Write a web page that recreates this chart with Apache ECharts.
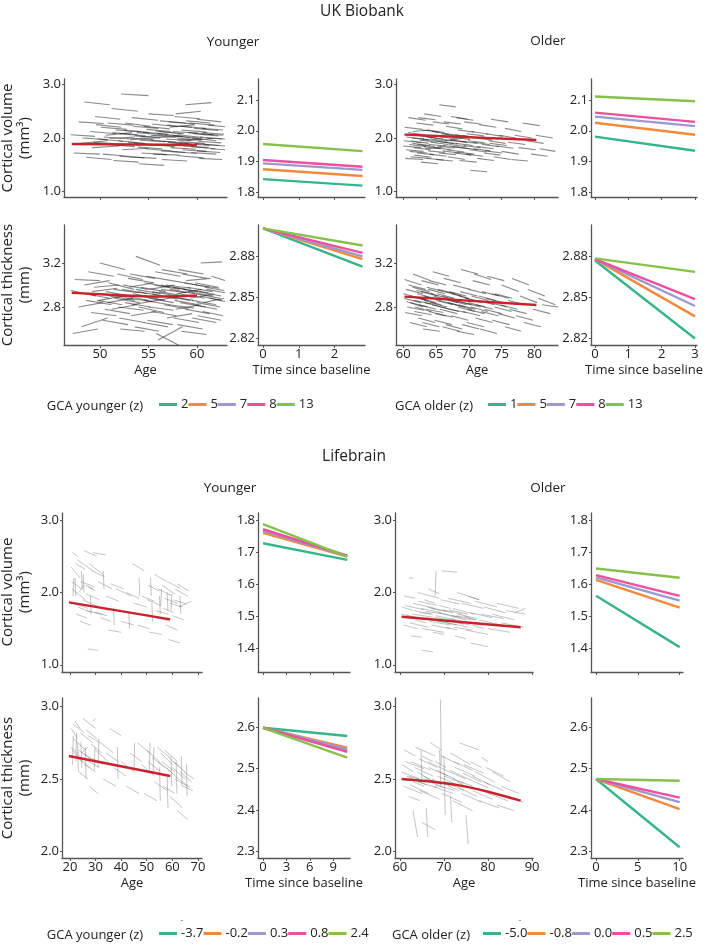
<!DOCTYPE html>
<html><head><meta charset="utf-8">
<script src="https://cdn.jsdelivr.net/npm/echarts@6/dist/echarts.min.js"></script>
<style>html,body{margin:0;padding:0;background:#fff}#c{width:708px;height:945px}</style>
</head><body><div id="c"></div>
<script>
// ---------------- DATA ----------------
// GCA levels (legend labels)
const ukbYoungLevels = ['2','5','7','8','13'];
const ukbOldLevels = ['1','5','7','8','13'];
const lbYoungLevels = ['-3.7','-0.2','0.3','0.8','2.4'];
const lbOldLevels = ['-5.0','-0.8','0.0','0.5','2.5'];

// follow-up time span of predicted lines [start, end]
const ukbYoungTime = [0, 2.78];
const ukbOldTime = [0, 3];
const lbYoungTime = [0, 10.8];
const lbOldTime = [0, 10];

// predicted values per GCA level (teal, orange, purple, pink, green)
const ukbYoungVolStart = [1.843, 1.875, 1.894, 1.905, 1.957];
const ukbYoungVolEnd   = [1.822, 1.853, 1.873, 1.883, 1.934];
const ukbOldVolStart   = [1.981, 2.026, 2.046, 2.059, 2.111];
const ukbOldVolEnd     = [1.935, 1.987, 2.015, 2.029, 2.096];
const ukbYoungThkStart = [2.9005, 2.9005, 2.9005, 2.9005, 2.9005];
const ukbYoungThkEnd   = [2.8724, 2.8780, 2.8800, 2.8825, 2.8880];
const ukbOldThkStart   = [2.8770, 2.8780, 2.8780, 2.8780, 2.8785];
const ukbOldThkEnd     = [2.8198, 2.8360, 2.8436, 2.8486, 2.8686];
const lbYoungVolStart  = [1.729, 1.762, 1.768, 1.773, 1.789];
const lbYoungVolEnd    = [1.677, 1.687, 1.689, 1.690, 1.687];
const lbOldVolStart    = [1.564, 1.614, 1.622, 1.629, 1.650];
const lbOldVolEnd      = [1.403, 1.527, 1.549, 1.564, 1.621];
const lbYoungThkStart  = [2.599, 2.599, 2.599, 2.599, 2.599];
const lbYoungThkEnd    = [2.579, 2.551, 2.547, 2.541, 2.527];
const lbOldThkStart    = [2.475, 2.475, 2.475, 2.475, 2.475];
const lbOldThkEnd      = [2.310, 2.402, 2.419, 2.430, 2.471];

// group fit lines [age, value]
const ukbYoungVolFit = [[47.1,1.888],[60,1.870]];
const ukbOldVolFit   = [[60.2,2.062],[80.3,1.963]];
const ukbYoungThkFit = [[47.1,2.930],[51,2.912],[55,2.896],[58,2.898],[60,2.905]];
const ukbOldThkFit   = [[60.2,2.894],[80.3,2.818]];
const lbYoungVolFit  = [[19.6,1.864],[59.2,1.629]];
const lbOldVolFit    = [[60.4,1.665],[87.4,1.519]];
const lbYoungThkFit  = [[19.6,2.659],[59.2,2.521]];
const lbOldThkFit    = [[60.4,2.500],[65,2.488],[70,2.472],[75,2.447],[80,2.412],[87.4,2.350]];

// individual trajectories [age0, value0, age1, value1]
const ukbYoungVolTraj = [
[47.0,2.06,49.5,2.03],[47.3,1.72,50.0,1.70],[47.8,2.30,50.4,2.27],[48.0,1.90,50.8,1.95],[48.4,2.67,51.0,2.62],
[48.6,1.64,51.2,1.60],[49.0,2.12,51.7,2.08],[49.2,1.82,52.0,1.85],[49.5,2.40,52.1,2.35],[49.8,1.98,52.4,1.94],
[50.1,2.20,52.8,2.16],[50.3,1.70,53.0,1.66],[50.6,2.05,53.3,2.10],[50.9,1.88,53.6,1.84],[51.2,2.55,53.9,2.50],
[51.4,1.58,54.0,1.55],[51.6,2.15,54.3,2.12],[51.9,1.95,54.6,1.90],[52.2,2.82,55.0,2.79],[52.3,1.78,55.0,1.81],
[52.6,2.28,55.2,2.22],[52.8,2.00,55.5,1.97],[53.0,1.65,55.8,1.62],[53.3,2.38,56.0,2.33],[53.5,1.90,56.2,1.86],
[53.8,2.10,56.5,2.06],[54.0,1.52,56.6,1.49],[54.2,2.02,56.9,2.05],[54.5,2.22,57.2,2.17],[54.7,1.80,57.4,1.76],
[55.0,2.45,57.6,2.42],[55.2,1.96,57.9,1.92],[55.5,1.70,58.2,1.68],[55.7,2.13,58.4,2.08],[56.0,1.86,58.6,1.90],
[56.2,2.32,58.9,2.28],[56.4,1.60,59.0,1.57],[56.7,2.05,59.3,2.01],[57.0,1.92,59.6,1.88],[57.2,2.20,59.8,2.25],
[57.4,1.75,60.0,1.71],[57.7,2.40,60.3,2.36],[57.9,2.00,60.5,1.96],[58.1,1.67,60.7,1.63],[58.4,2.15,61.0,2.11],
[58.6,1.85,61.2,1.82],[58.8,2.62,61.5,2.66],[59.0,1.95,61.6,1.99],[59.2,2.28,61.8,2.24],[59.4,1.73,62.0,1.70],
[59.6,2.08,62.2,2.04],[59.8,1.90,62.3,1.86],[60.0,2.35,62.5,2.30],[60.2,1.62,62.6,1.60],[60.3,2.02,62.6,1.98],
[60.5,2.18,62.7,2.15],[52.0,2.08,54.7,2.04],[55.9,2.09,58.5,2.03],[58.0,2.06,60.6,2.01],[53.9,1.83,56.4,1.80],
[53.1,1.97,55.6,2.00],[56.8,1.98,59.4,1.95],[54.4,2.11,57.0,2.07],[58.2,1.93,60.8,1.90],[60.6,2.10,62.8,2.07],
[51.0,1.99,53.6,2.02],[55.3,2.05,57.8,2.01],[57.5,2.12,60.1,2.09],[59.5,2.00,62.0,1.95],[49.6,2.25,52.2,2.20],
[50.4,2.02,53.0,1.98],[51.3,2.10,53.9,2.06],[51.8,1.86,54.4,1.89],[52.5,2.14,55.1,2.10],[52.9,1.92,55.4,1.88],
[53.6,2.04,56.2,2.00],[54.1,1.96,56.7,1.93],[54.8,2.16,57.3,2.12],[55.1,1.88,57.7,1.84],[55.6,2.00,58.1,2.04],
[56.1,2.12,58.7,2.08],[56.5,1.94,59.1,1.90],[56.9,2.24,59.5,2.20],[57.3,1.82,59.9,1.79],[57.6,2.04,60.2,2.00],
[58.0,1.96,60.5,1.99],[58.3,2.22,60.9,2.18],[58.7,1.90,61.3,1.86],[59.1,2.10,61.7,2.06],[59.4,1.84,61.9,1.80],
[59.7,2.18,62.2,2.14],[60.1,1.94,62.5,1.91],[60.4,2.08,62.7,2.05],[60.7,1.88,62.9,1.85],[53.4,2.22,56.0,2.18],
[55.4,2.26,58.0,2.21],[57.1,2.30,59.7,2.26],[58.9,2.32,61.4,2.28],[54.3,1.72,56.9,1.69],[56.3,1.76,58.8,1.73],
[58.5,1.78,61.0,1.75],[60.0,1.76,62.4,1.73],[48.2,2.00,50.8,1.97],[49.3,1.92,51.9,1.89],[50.8,2.28,53.4,2.24],
[61.0,2.00,62.9,1.98],[61.2,2.24,62.9,2.21],[61.4,1.80,62.9,1.78],[52.0,1.66,54.6,1.63],[57.8,2.45,60.4,2.50]
];
const ukbOldVolTraj = [
[60.0,1.85,62.7,1.82],[60.2,2.20,62.9,2.16],[60.3,1.62,63.0,1.60],[60.5,2.02,63.2,1.98],[60.8,2.38,63.4,2.33],
[61.0,1.75,63.6,1.72],[61.2,1.95,63.9,1.90],[61.5,2.12,64.0,2.15],[61.7,1.68,64.3,1.64],[62.0,2.28,64.6,2.24],
[62.2,1.88,64.8,1.84],[62.4,2.05,65.0,2.00],[62.7,1.55,65.3,1.52],[63.0,1.98,65.6,1.94],[63.2,2.45,65.8,2.40],
[63.4,1.80,66.0,1.83],[63.7,2.15,66.3,2.10],[64.0,1.70,66.6,1.66],[64.2,1.92,66.9,1.88],[64.5,2.30,67.0,2.26],
[64.8,2.00,67.4,1.95],[65.0,1.60,67.6,1.57],[65.2,1.85,67.8,1.81],[65.5,2.62,68.0,2.58],[65.8,2.08,68.4,2.03],
[66.0,1.76,68.6,1.72],[66.3,1.95,68.9,1.99],[66.5,2.22,69.0,2.17],[66.8,1.65,69.4,1.60],[67.0,1.88,69.6,1.84],
[67.3,2.40,69.8,2.35],[67.6,2.02,70.2,1.97],[67.8,1.72,70.4,1.68],[68.0,1.90,70.6,1.86],[68.3,2.15,70.8,2.11],
[68.6,1.58,71.2,1.55],[68.8,1.82,71.4,1.78],[69.0,2.05,71.6,2.00],[69.3,2.30,71.8,2.26],[69.6,1.70,72.2,1.66],
[69.9,1.95,72.4,1.91],[70.2,1.40,72.8,1.37],[70.4,2.12,73.0,2.07],[70.7,1.80,73.3,1.76],[71.0,2.00,73.6,1.96],
[71.3,1.62,73.8,1.58],[71.6,2.25,74.2,2.20],[72.0,1.88,74.6,1.84],[72.3,1.72,74.8,1.68],[72.6,2.08,75.2,2.03],
[73.0,1.95,75.6,1.90],[73.4,2.35,76.0,2.30],[73.8,1.65,76.4,1.60],[74.2,1.85,76.8,1.81],[74.6,2.05,77.2,2.00],
[75.0,1.75,77.6,1.70],[75.5,2.18,78.0,2.12],[76.0,1.92,78.6,1.88],[76.5,1.60,79.0,1.57],[77.0,2.05,79.6,2.00],
[77.6,1.82,80.2,1.78],[78.2,2.28,80.8,2.23],[78.8,1.95,81.4,1.90],[79.5,1.70,82.0,1.66],[80.2,2.05,82.8,2.00],
[80.8,1.80,83.2,1.75],[61.4,1.90,64.1,1.86],[63.9,1.88,66.5,1.85],[65.6,1.93,68.2,1.89],[67.2,1.96,69.8,1.92],
[60.1,1.95,62.8,1.91],[60.4,1.78,63.1,1.75],[60.7,2.10,63.3,2.06],[60.9,1.88,63.5,1.84],[61.3,2.00,64.0,1.96],
[61.6,1.82,64.2,1.78],[61.9,2.05,64.5,2.01],[62.1,1.72,64.7,1.69],[62.6,1.96,65.2,1.92],[62.9,2.15,65.5,2.11],
[63.1,1.84,65.7,1.80],[63.5,2.02,66.1,1.98],[63.8,1.76,66.4,1.73],[64.1,1.98,66.7,1.94],[64.4,2.12,67.0,2.07],
[64.7,1.82,67.3,1.78],[65.1,1.94,67.7,1.90],[65.4,1.72,68.0,1.69],[65.7,2.02,68.3,1.98],[66.1,1.86,68.7,1.82],
[66.4,2.08,69.0,2.04],[66.7,1.78,69.3,1.74],[67.1,1.96,69.7,1.92],[67.5,1.84,70.1,1.80],[67.9,2.06,70.5,2.02],
[68.2,1.74,70.8,1.70],[68.7,1.94,71.3,1.90],[69.2,1.86,71.8,1.82],[69.7,2.08,72.3,2.04],[70.1,1.78,72.7,1.74],
[70.6,1.92,73.2,1.88],[71.2,1.84,73.8,1.80],[71.8,2.02,74.4,1.98],[72.5,1.76,75.1,1.72],[73.2,1.90,75.8,1.86],
[61.1,1.65,63.8,1.62],[63.6,1.62,66.2,1.59],[66.2,2.30,68.8,2.26],[62.3,2.38,64.9,2.34],[68.1,2.38,70.7,2.33]
];
const ukbYoungThkTraj = [
[47.0,2.95,49.6,2.90],[47.4,3.05,50.0,3.04],[47.8,2.80,50.3,2.84],[48.1,2.62,50.8,2.70],[48.5,2.92,51.0,2.88],
[48.8,3.12,51.4,3.08],[49.1,2.75,51.7,2.72],[49.4,2.98,52.0,3.00],[49.7,2.86,52.3,2.82],[50.0,3.20,52.6,3.14],
[50.3,2.68,52.9,2.64],[50.6,2.94,53.2,2.90],[50.9,3.02,53.5,2.96],[51.2,2.78,53.8,2.82],[51.5,2.88,54.1,2.84],
[51.8,3.10,54.4,3.05],[52.1,2.60,54.6,2.58],[52.3,2.96,54.9,2.92],[52.6,2.84,55.2,2.80],[52.9,3.06,55.5,3.02],
[53.2,2.72,55.8,2.76],[53.4,2.92,56.0,2.88],[53.7,3.26,56.2,3.18],[54.0,2.80,56.6,2.75],[54.2,2.98,56.8,2.94],
[54.5,2.66,57.0,2.62],[54.8,3.08,57.4,3.04],[55.0,2.88,57.6,2.84],[55.3,2.76,57.9,2.72],[55.6,3.00,58.2,2.96],
[55.8,2.56,58.2,2.45],[56.1,2.94,58.7,2.90],[56.4,3.14,59.0,3.10],[56.6,2.82,59.2,2.78],[56.9,2.70,59.5,2.74],
[57.2,2.96,59.8,2.92],[57.4,3.04,60.0,3.00],[57.7,2.86,60.2,2.82],[58.0,2.64,60.6,2.60],[58.2,2.92,60.8,2.88],
[58.5,3.10,61.0,3.06],[58.8,2.78,61.3,2.74],[59.0,2.98,61.6,2.94],[59.3,2.88,61.8,2.92],[59.5,2.70,62.0,2.66],
[59.8,3.02,62.2,2.98],[60.0,2.84,62.4,2.80],[60.2,2.94,62.5,2.90],[60.4,3.20,62.6,3.21],[60.6,2.76,62.7,2.72],
[52.4,2.90,55.0,2.86],[53.9,2.94,56.5,2.90],[55.4,2.92,58.0,2.87],[57.0,2.90,59.6,2.86],[58.6,2.96,61.2,2.93],
[59.9,2.92,62.4,2.88],[51.0,2.90,53.6,2.86],[49.9,2.86,52.5,2.90],[54.6,2.86,57.2,2.82],[56.3,2.96,58.9,2.93],
[57.8,2.78,60.4,2.82],[59.6,2.82,62.1,2.78],[60.8,2.98,62.8,2.95],[47.2,2.56,49.8,2.60],[48.4,3.00,51.0,3.04],
[50.5,2.78,53.1,2.74],[53.0,2.98,55.6,3.02],[55.1,2.96,57.7,3.00],[56.8,3.00,59.4,2.97],[58.9,3.04,61.4,3.06],
[50.2,2.92,52.8,2.89],[50.8,2.84,53.4,2.88],[51.4,2.96,54.0,2.93],[51.9,2.80,54.5,2.77],[52.4,3.00,55.0,2.96],
[52.8,2.88,55.4,2.85],[53.3,2.82,55.9,2.86],[53.7,2.96,56.3,2.92],[54.1,2.90,56.7,2.86],[54.6,3.02,57.2,2.98],
[55.0,2.80,57.6,2.77],[55.4,2.94,58.0,2.90],[55.9,2.86,58.5,2.90],[56.3,3.00,58.9,2.96],[56.7,2.90,59.3,2.86],
[57.1,2.82,59.7,2.79],[57.5,2.98,60.1,2.94],[57.9,2.92,60.5,2.96],[58.3,2.84,60.9,2.80],[58.7,3.02,61.3,2.98],
[59.1,2.94,61.7,2.90],[59.5,2.86,62.0,2.82],[59.9,3.00,62.3,2.97],[60.3,2.90,62.6,2.86],[60.7,2.84,62.8,2.88],
[61.0,2.96,62.9,2.93],[61.3,2.88,62.9,2.85],[53.1,3.10,55.7,3.06],[55.7,3.12,58.3,3.08],[58.1,3.14,60.7,3.10],
[52.0,2.70,54.6,2.66],[54.9,2.68,57.5,2.64],[57.6,2.70,60.2,2.66],[60.1,2.72,62.5,2.68],[48.6,2.86,51.2,2.82],
[49.2,2.94,51.8,2.97],[56.0,2.50,58.5,2.62],[58.4,2.58,61.0,2.55],[53.6,2.62,56.1,2.58],[61.5,3.08,62.9,3.04]
];
const ukbOldThkTraj = [
[60.0,2.92,62.6,2.88],[60.2,3.05,62.8,3.00],[60.3,2.75,62.9,2.72],[60.5,2.85,63.0,2.80],[60.8,3.00,63.4,2.96],
[61.0,2.66,63.6,2.62],[61.2,2.90,63.8,2.86],[61.5,3.10,64.1,3.04],[61.8,2.80,64.3,2.76],[62.0,2.95,64.6,2.92],
[62.3,2.70,64.9,2.66],[62.5,2.88,65.0,2.84],[62.8,3.04,65.4,3.00],[63.0,2.60,65.6,2.58],[63.3,2.84,65.9,2.80],
[63.6,2.98,66.2,2.94],[63.9,2.76,66.5,2.72],[64.2,2.92,66.8,2.88],[64.5,3.12,67.0,3.08],[64.8,2.68,67.4,2.64],
[65.0,2.86,67.6,2.82],[65.3,2.96,67.9,2.92],[65.6,2.78,68.2,2.74],[65.9,2.90,68.5,2.86],[66.2,3.06,68.8,3.02],
[66.5,2.64,69.0,2.60],[66.8,2.84,69.4,2.80],[67.0,2.94,69.6,2.90],[67.3,2.72,69.9,2.68],[67.6,3.00,70.2,2.96],
[67.9,2.82,70.5,2.78],[68.2,2.58,70.8,2.55],[68.5,2.90,71.0,2.86],[68.8,3.14,71.4,3.10],[69.1,2.76,71.7,2.72],
[69.4,2.88,72.0,2.84],[69.7,2.66,72.3,2.62],[70.0,2.96,72.6,2.92],[70.3,2.80,72.9,2.76],[70.6,3.04,73.2,3.00],
[71.0,2.70,73.6,2.66],[71.3,2.86,73.9,2.82],[71.7,2.60,74.3,2.56],[72.0,2.94,74.6,2.90],[72.4,2.78,75.0,2.74],
[72.8,3.08,75.4,3.04],[73.2,2.84,75.8,2.80],[73.6,2.68,76.2,2.64],[74.0,2.92,76.6,2.88],[74.5,2.74,77.0,2.70],
[75.0,3.00,77.6,2.94],[75.5,2.62,78.0,2.58],[76.0,2.86,78.6,2.82],[76.6,3.06,79.2,3.00],[77.2,2.72,79.8,2.68],
[77.8,2.90,80.4,2.84],[78.4,2.66,81.0,2.62],[79.0,2.96,81.6,2.90],[79.8,2.78,82.4,2.74],[80.6,2.88,83.2,2.82],
[81.2,2.82,83.6,2.80],[61.6,2.86,64.2,2.83],[63.1,2.90,65.7,2.86],[64.4,2.82,67.0,2.78],[65.8,2.88,68.4,2.84],
[67.1,2.86,69.7,2.82],[68.4,2.82,71.0,2.78],[69.9,2.84,72.5,2.80],[71.5,2.90,74.1,2.86],[73.9,2.80,76.5,2.76],
[60.1,2.88,62.7,2.84],[60.4,2.96,63.0,2.92],[60.6,2.80,63.2,2.77],[60.9,2.90,63.5,2.86],[61.1,2.84,63.7,2.80],
[61.4,2.98,64.0,2.94],[61.7,2.76,64.3,2.73],[62.1,2.92,64.7,2.88],[62.4,2.82,65.0,2.78],[62.7,2.94,65.3,2.90],
[63.2,2.86,65.8,2.82],[63.5,2.78,66.1,2.75],[63.8,2.96,66.4,2.92],[64.1,2.84,66.7,2.80],[64.6,2.90,67.2,2.86],
[64.9,2.74,67.5,2.71],[65.2,2.92,67.8,2.88],[65.5,2.86,68.1,2.82],[65.9,2.80,68.5,2.76],[66.3,2.94,68.9,2.90],
[66.6,2.88,69.2,2.84],[67.0,2.78,69.6,2.75],[67.4,2.92,70.0,2.88],[67.8,2.86,70.4,2.82],[68.3,2.80,70.9,2.76],
[68.7,2.94,71.3,2.90],[69.2,2.84,71.8,2.80],[69.8,2.78,72.4,2.74],[70.4,2.90,73.0,2.86],[71.1,2.82,73.7,2.78],
[71.9,2.76,74.5,2.72],[72.6,2.88,75.2,2.84],[73.5,2.92,76.1,2.88],[74.8,2.82,77.4,2.78],[76.2,2.78,78.8,2.74],
[62.9,2.66,65.5,2.62],[66.0,2.62,68.6,2.58],[69.0,2.64,71.6,2.60],[64.0,3.04,66.6,3.00],[70.8,3.10,73.4,3.05]
];
const lbYoungVolTraj = [
[20.5,2.35,24.0,2.20],[20.8,2.05,26.0,1.90],[21.0,2.55,23.0,2.50],[21.5,1.85,27.0,1.78],[22.0,2.20,22.3,1.95],
[22.5,1.70,26.5,1.65],[23.0,2.45,29.0,2.30],[23.5,2.00,25.5,2.10],[24.0,1.60,28.0,1.55],[24.5,2.30,24.8,2.05],
[25.0,1.90,31.0,1.80],[25.5,2.58,30.5,2.50],[26.0,2.10,29.0,2.05],[26.5,1.75,33.0,1.70],[27.0,1.22,31.0,1.20],
[27.5,2.40,33.0,2.25],[28.0,1.95,28.3,1.70],[29.0,2.55,34.0,2.52],[30.0,1.82,35.0,1.75],[31.0,2.15,36.5,2.05],
[32.0,1.65,36.0,1.60],[33.0,2.30,33.3,2.05],[34.0,1.95,39.0,1.88],[35.0,1.48,40.0,1.45],[36.0,2.12,41.0,2.05],
[37.0,1.78,37.3,1.55],[38.0,2.05,44.0,1.95],[40.0,1.60,45.0,1.55],[42.0,2.00,47.0,1.92],[43.0,1.72,43.3,1.50],
[44.5,2.40,49.0,2.30],[45.0,1.85,50.0,1.80],[46.5,1.55,51.0,1.50],[47.0,2.20,47.3,1.95],[48.0,1.95,53.0,1.88],
[49.5,1.70,54.0,1.65],[50.5,2.10,55.0,2.02],[51.0,1.45,56.0,1.42],[52.0,1.85,52.3,1.60],[53.0,2.25,58.0,2.15],
[54.0,1.65,59.0,1.60],[55.0,1.95,55.3,1.70],[56.0,2.10,61.0,1.98],[56.5,1.78,60.5,1.72],[57.5,1.55,62.0,1.48],
[58.0,2.00,58.3,1.75],[59.0,1.85,64.0,1.80],[60.0,1.68,64.5,1.62],[61.0,2.05,66.0,1.95],[62.5,1.80,67.5,1.88],
[58.5,1.35,63.0,1.30],[63.0,1.95,63.3,1.70],
[20.6,2.15,24.5,2.05],[21.2,1.95,21.5,2.20],[22.2,2.40,26.0,2.32],[23.2,1.80,28.5,1.72],[24.2,2.15,29.5,2.08],
[25.2,2.25,25.5,2.00],[26.2,1.98,31.5,1.90],[27.2,2.08,30.0,2.02],[28.5,2.30,33.5,2.22],[29.5,1.72,34.5,1.68],
[50.2,1.90,55.5,1.82],[51.5,2.20,51.8,1.95],[53.5,1.75,58.5,1.70],[54.5,2.05,59.5,1.96],[55.5,1.82,55.8,2.05],
[57.0,1.92,62.0,1.85],[58.2,2.15,63.0,2.06],[59.5,1.75,59.8,1.98],[60.5,1.90,65.5,1.84],[62.0,2.12,66.5,2.02]
];
const lbOldVolTraj = [
[60.5,1.80,63.0,1.75],[60.8,1.55,64.0,1.50],[61.0,1.95,63.5,1.92],[61.5,1.68,66.0,1.62],[62.0,2.20,63.0,2.20],
[62.5,1.40,65.0,1.38],[63.0,1.85,68.0,1.78],[63.5,1.62,66.0,1.58],[64.0,2.00,69.0,1.92],[64.5,1.72,67.0,1.70],
[65.0,1.50,70.0,1.45],[65.5,1.90,68.0,1.85],[66.0,1.65,71.0,1.58],[66.5,2.05,69.0,1.98],[67.0,1.78,72.0,1.72],
[67.5,1.45,70.0,1.42],[68.0,1.95,68.2,2.30],[68.5,1.60,73.0,1.55],[69.0,1.82,71.5,1.78],[69.5,2.30,73.0,2.28],
[70.0,1.70,75.0,1.62],[70.5,1.52,73.0,1.48],[71.0,1.92,76.0,1.85],[71.5,1.64,74.0,1.60],[72.0,1.78,77.0,1.70],
[72.5,1.40,75.0,1.36],[73.0,2.00,78.0,1.90],[73.5,1.58,76.0,1.55],[74.0,1.85,79.0,1.78],[74.5,1.68,77.0,1.62],
[75.0,1.48,80.0,1.42],[75.5,1.95,78.0,1.90],[76.0,1.72,81.0,1.65],[76.5,1.55,79.0,1.50],[77.0,1.88,82.0,1.80],
[78.0,1.62,83.0,1.55],[79.0,1.80,84.0,1.72],[80.0,1.50,85.0,1.45],[81.0,1.70,86.0,1.62],[82.0,1.85,87.0,1.78],
[83.0,1.58,88.0,1.52],[84.0,1.75,88.5,1.70],[62.8,1.70,67.5,1.66],[64.8,1.78,69.5,1.72],[66.8,1.60,71.5,1.55],
[68.8,1.72,73.5,1.66],[70.8,1.58,75.5,1.52],[72.8,1.68,77.5,1.62],[65.0,1.20,67.5,1.18],[76.0,1.30,80.0,1.25],
[86.0,1.72,88.5,1.78],
[60.3,1.70,64.5,1.65],[61.2,1.82,65.5,1.76],[62.2,1.58,66.5,1.52],[63.2,1.75,67.5,1.70],[64.2,1.88,68.5,1.82],
[65.2,1.65,69.5,1.60],[66.2,1.80,70.5,1.74],[67.2,1.55,71.5,1.50],[68.2,1.68,72.5,1.62],[69.2,1.90,73.5,1.84],
[70.2,1.62,74.5,1.56],[71.2,1.76,75.5,1.70],[72.2,1.52,76.5,1.48],[73.2,1.70,77.5,1.64],[74.2,1.60,78.5,1.55],
[65.8,1.74,70.2,1.70],[67.8,1.66,72.2,1.61],[69.8,1.76,74.2,1.70],[71.8,1.68,76.2,1.62],[78.5,1.70,83.5,1.64]
];
const lbYoungThkTraj = [
[20.5,2.85,23.0,2.78],[20.8,2.70,25.0,2.62],[21.0,2.60,21.3,2.80],[21.5,2.78,26.0,2.70],[22.0,2.90,24.0,2.85],
[22.5,2.65,28.0,2.58],[23.0,2.75,23.3,2.55],[23.5,2.55,27.0,2.50],[24.0,2.82,29.0,2.75],[24.5,2.68,27.0,2.72],
[25.0,2.92,30.0,2.85],[25.5,2.60,30.0,2.55],[26.0,2.72,26.3,2.50],[27.0,2.80,32.0,2.75],[27.5,2.45,31.0,2.40],
[28.0,2.65,33.0,2.60],[29.0,2.90,30.0,2.92],[30.0,2.70,35.0,2.62],[31.0,2.58,31.3,2.78],[32.0,2.75,37.0,2.68],
[33.0,2.50,38.0,2.45],[34.0,2.68,39.0,2.62],[35.5,2.85,40.0,2.80],[37.0,2.58,42.0,2.52],[38.5,2.72,38.8,2.50],
[40.0,2.62,45.0,2.55],[42.0,2.45,47.0,2.40],[43.5,2.68,48.0,2.62],[45.0,2.55,45.3,2.75],[46.5,2.75,51.0,2.68],
[48.0,2.60,53.0,2.52],[49.0,2.40,54.0,2.35],[50.0,2.70,55.0,2.62],[51.0,2.55,51.3,2.75],[52.0,2.65,57.0,2.58],
[53.0,2.48,58.0,2.42],[54.0,2.72,59.0,2.65],[55.0,2.58,55.3,2.35],[56.0,2.62,61.0,2.55],[56.5,2.45,61.0,2.40],
[57.0,2.70,62.0,2.62],[58.0,2.52,58.3,2.30],[58.5,2.65,63.0,2.58],[59.0,2.38,64.0,2.30],[60.0,2.58,65.0,2.50],
[61.0,2.50,66.0,2.45],[61.5,2.62,61.8,2.40],[62.0,2.28,66.0,2.22],[63.0,2.55,67.5,2.48],[64.0,2.45,68.0,2.42],
[65.5,2.60,65.8,2.38],
[20.4,2.72,24.0,2.66],[21.3,2.88,25.5,2.82],[22.3,2.62,22.6,2.82],[23.3,2.70,28.0,2.64],[24.3,2.76,24.6,2.58],
[25.3,2.68,29.5,2.62],[26.3,2.84,30.5,2.78],[27.3,2.62,31.5,2.58],[28.3,2.74,32.5,2.68],[29.5,2.56,29.8,2.72],
[50.5,2.62,55.5,2.55],[52.5,2.55,52.8,2.72],[54.5,2.62,59.5,2.55],[55.5,2.68,60.0,2.60],[57.5,2.58,62.5,2.50],
[59.5,2.66,59.8,2.45],[60.5,2.62,65.0,2.55],[62.5,2.50,67.0,2.44],[63.5,2.66,63.8,2.45],[64.5,2.55,68.5,2.50]
];
const lbOldThkTraj = [
[60.5,2.60,63.0,2.55],[60.8,2.45,65.0,2.40],[61.0,2.70,63.5,2.66],[61.5,2.52,66.0,2.46],[62.0,2.38,64.5,2.35],
[62.5,2.62,67.0,2.56],[63.0,2.48,65.5,2.45],[63.5,2.72,68.0,2.66],[64.0,2.55,66.5,2.50],[64.5,2.42,69.0,2.36],
[65.0,2.66,67.5,2.62],[65.5,2.50,70.0,2.44],[66.0,2.30,66.3,2.10],[66.5,2.58,71.0,2.52],[67.0,2.75,69.5,2.70],
[67.5,2.45,72.0,2.40],[68.0,2.62,70.5,2.58],[68.5,2.52,73.0,2.46],[69.2,3.05,69.4,2.60],[69.5,2.40,74.0,2.34],
[70.0,2.66,70.3,2.25],[70.5,2.56,75.0,2.50],[71.0,2.45,73.5,2.42],[71.5,2.68,76.0,2.60],[72.0,2.35,76.5,2.28],
[72.5,2.58,77.0,2.52],[73.0,2.48,75.5,2.44],[73.5,2.75,78.0,2.70],[74.0,2.40,78.5,2.34],[74.5,2.60,79.0,2.54],
[75.0,2.25,75.5,2.05],[75.5,2.50,80.0,2.44],[76.0,2.62,78.5,2.58],[76.5,2.42,81.0,2.36],[77.0,2.55,81.5,2.48],
[78.0,2.35,82.5,2.30],[78.5,2.65,80.0,2.62],[79.0,2.48,83.5,2.42],[80.0,2.40,84.5,2.35],[81.0,2.55,85.0,2.48],
[82.0,2.32,86.0,2.28],[83.0,2.45,87.0,2.40],[84.5,2.38,88.0,2.34],[62.0,2.52,66.5,2.48],[64.0,2.48,68.5,2.44],
[66.0,2.50,70.5,2.46],[68.0,2.46,72.5,2.42],[70.0,2.52,74.5,2.47],[72.0,2.50,76.5,2.45],[65.0,2.20,68.0,2.15],
[63.0,2.28,64.0,2.10],
[60.3,2.55,64.5,2.50],[61.3,2.62,65.5,2.57],[62.3,2.46,66.5,2.40],[63.3,2.58,67.5,2.52],[64.3,2.64,68.5,2.58],
[65.3,2.52,69.5,2.46],[66.3,2.62,70.5,2.56],[67.3,2.50,71.5,2.45],[68.3,2.56,72.5,2.50],[69.3,2.66,73.5,2.60],
[70.3,2.48,74.5,2.42],[71.3,2.56,75.5,2.50],[72.3,2.62,76.5,2.56],[73.3,2.44,77.5,2.38],[74.3,2.54,78.5,2.48],
[69.0,2.70,69.3,2.45],[71.5,2.38,71.8,2.20],[76.5,2.52,80.5,2.46],[79.5,2.58,83.5,2.52],[64.8,2.70,65.0,2.48]
];

// tick labels
const ukbYoungAgeTicks = [50, 55, 60];
const ukbOldAgeTicks = [60, 65, 70, 75, 80];
const ukbYoungTimeTicks = [0, 1, 2];
const ukbOldTimeTicks = [0, 1, 2, 3];
const lbYoungAgeTicks = [20, 30, 40, 50, 60, 70];
const lbOldAgeTicks = [60, 70, 80, 90];
const lbYoungTimeTicks = [0, 3, 6, 9];
const lbOldTimeTicks = [0, 5, 10];
const volAgeTicks = [1.0, 2.0, 3.0];
const ukbVolTimeTicks = [1.8, 1.9, 2.0, 2.1];
const ukbThkAgeTicks = [2.8, 3.2];
const ukbThkTimeTicks = [2.82, 2.85, 2.88];
const lbVolTimeTicks = [1.4, 1.5, 1.6, 1.7, 1.8];
const lbThkAgeTicks = [2.0, 2.5, 3.0];
const lbThkTimeTicks = [2.3, 2.4, 2.5, 2.6];

// ---------------- STYLE / LAYOUT ----------------
const F = "'Open Sans', 'Noto Sans', sans-serif";
const gcaColors = ['#36b48e', '#f18a3d', '#9c99cf', '#ee4f9e', '#86c14b'];
const axisCol = '#555';
const txtCol = '#222';
const fitCol = '#c8232c';

const panels = [
 {box:[64,79,163,118], x:[46.3,63.1], xt:ukbYoungAgeTicks, y:[0.9,3.1], yt:volAgeTicks, yd:1, traj:ukbYoungVolTraj, fit:ukbYoungVolFit, ukb:true},
 {box:[258,79,107,118], x:[-0.14,2.85], xt:ukbYoungTimeTicks, y:[1.785,2.168], yt:ukbVolTimeTicks, yd:1, lv:ukbYoungLevels, t:ukbYoungTime, s:ukbYoungVolStart, e:ukbYoungVolEnd},
 {box:[396,79,162,118], x:[58.9,83.6], xt:ukbOldAgeTicks, y:[0.9,3.1], yt:volAgeTicks, yd:1, traj:ukbOldVolTraj, fit:ukbOldVolFit, ukb:true},
 {box:[591,79,106,118], x:[-0.12,3.06], xt:ukbOldTimeTicks, y:[1.785,2.168], yt:ukbVolTimeTicks, yd:1, lv:ukbOldLevels, t:ukbOldTime, s:ukbOldVolStart, e:ukbOldVolEnd},
 {box:[64,225,163,120], x:[46.3,63.1], xt:ukbYoungAgeTicks, y:[2.455,3.545], yt:ukbThkAgeTicks, yd:1, traj:ukbYoungThkTraj, fit:ukbYoungThkFit, ukb:true, xl:'Age'},
 {box:[258,225,107,120], x:[-0.14,2.85], xt:ukbYoungTimeTicks, y:[2.815,2.903], yt:ukbThkTimeTicks, yd:2, lv:ukbYoungLevels, t:ukbYoungTime, s:ukbYoungThkStart, e:ukbYoungThkEnd, xl:'Time since baseline'},
 {box:[396,225,162,120], x:[58.9,83.6], xt:ukbOldAgeTicks, y:[2.455,3.545], yt:ukbThkAgeTicks, yd:1, traj:ukbOldThkTraj, fit:ukbOldThkFit, ukb:true, xl:'Age'},
 {box:[591,225,106,120], x:[-0.12,3.06], xt:ukbOldTimeTicks, y:[2.815,2.903], yt:ukbThkTimeTicks, yd:2, lv:ukbOldLevels, t:ukbOldTime, s:ukbOldThkStart, e:ukbOldThkEnd, xl:'Time since baseline'},
 {box:[62,513,140,159], x:[16.9,71.6], xt:lbYoungAgeTicks, y:[0.9,3.1], yt:volAgeTicks, yd:1, traj:lbYoungVolTraj, fit:lbYoungVolFit},
 {box:[258,513,92,159], x:[-0.64,11.15], xt:lbYoungTimeTicks, y:[1.325,1.824], yt:lbVolTimeTicks, yd:1, lv:lbYoungLevels, t:lbYoungTime, s:lbYoungVolStart, e:lbYoungVolEnd},
 {box:[395,513,138,159], x:[58.9,90.2], xt:lbOldAgeTicks, y:[0.9,3.1], yt:volAgeTicks, yd:1, traj:lbOldVolTraj, fit:lbOldVolFit},
 {box:[591,513,92,159], x:[-0.6,10.4], xt:lbOldTimeTicks, y:[1.325,1.824], yt:lbVolTimeTicks, yd:1, lv:lbOldLevels, t:lbOldTime, s:lbOldVolStart, e:lbOldVolEnd},
 {box:[62,698,140,160], x:[16.9,71.6], xt:lbYoungAgeTicks, y:[1.954,3.06], yt:lbThkAgeTicks, yd:1, traj:lbYoungThkTraj, fit:lbYoungThkFit, xl:'Age'},
 {box:[258,698,92,160], x:[-0.64,11.15], xt:lbYoungTimeTicks, y:[2.284,2.671], yt:lbThkTimeTicks, yd:1, lv:lbYoungLevels, t:lbYoungTime, s:lbYoungThkStart, e:lbYoungThkEnd, xl:'Time since baseline'},
 {box:[395,698,138,160], x:[58.9,90.2], xt:lbOldAgeTicks, y:[1.954,3.06], yt:lbThkAgeTicks, yd:1, traj:lbOldThkTraj, fit:lbOldThkFit, xl:'Age'},
 {box:[591,698,92,160], x:[-0.6,10.4], xt:lbOldTimeTicks, y:[2.284,2.671], yt:lbThkTimeTicks, yd:1, lv:lbOldLevels, t:lbOldTime, s:lbOldThkStart, e:lbOldThkEnd, xl:'Time since baseline'}
];

const grids = [], xAxes = [], yAxes = [], series = [];
panels.forEach((p, i) => {
  grids.push({left:p.box[0], top:p.box[1], width:p.box[2], height:p.box[3], containLabel:false});
  xAxes.push({
    type:'value', gridIndex:i, min:p.x[0], max:p.x[1],
    axisLine:{show:true, onZero:false, lineStyle:{color:axisCol, width:1.3}},
    axisTick:{show:true, length:3, customValues:p.xt, lineStyle:{color:axisCol}},
    axisLabel:{show:!!p.xl, customValues:p.xt, margin:3, fontSize:13, color:txtCol, fontFamily:F, formatter:v=>String(v)},
    splitLine:{show:false},
    name:p.xl || '', nameLocation:'middle', nameGap:19,
    nameTextStyle:{fontSize:13, color:txtCol, fontFamily:F}
  });
  yAxes.push({
    type:'value', gridIndex:i, min:p.y[0], max:p.y[1],
    axisLine:{show:true, onZero:false, lineStyle:{color:axisCol, width:1.3}},
    axisTick:{show:true, length:2, customValues:p.yt, lineStyle:{color:axisCol}},
    axisLabel:{show:true, customValues:p.yt, margin:3, fontSize:13, color:txtCol, fontFamily:F, formatter:v=>Number(v).toFixed(p.yd)},
    splitLine:{show:false}
  });
  if (p.traj) {
    const stroke = p.ukb ? 'rgba(20,20,20,0.5)' : 'rgba(95,95,95,0.42)';
    const lw = p.ukb ? 1.1 : 0.9;
    series.push({
      type:'custom', name:'individual', xAxisIndex:i, yAxisIndex:i, data:p.traj, silent:true, clip:true,
      encode:{x:[0,2], y:[1,3]},
      renderItem:(params, api) => {
        const a = api.coord([api.value(0), api.value(1)]);
        const b = api.coord([api.value(2), api.value(3)]);
        return {type:'line', shape:{x1:a[0], y1:a[1], x2:b[0], y2:b[1]}, style:{stroke:stroke, lineWidth:lw}};
      }
    });
    series.push({
      type:'line', name:'fit', xAxisIndex:i, yAxisIndex:i, data:p.fit, smooth:0.3, symbol:'none', silent:true,
      lineStyle:{color:fitCol, width:2.4}, itemStyle:{color:fitCol}, z:5
    });
  }
  if (p.lv) {
    p.lv.forEach((name, k) => {
      series.push({
        type:'line', name:name, xAxisIndex:i, yAxisIndex:i, symbol:'none', silent:true,
        data:[[p.t[0], p.s[k]], [p.t[1], p.e[k]]],
        lineStyle:{color:gcaColors[k], width:2.4}, itemStyle:{color:gcaColors[k]}
      });
    });
  }
});

function legendAt(names, left, top) {
  return {
    data:names, left:left, top:top, orient:'horizontal', selectedMode:false, padding:0,
    icon:'rect', itemWidth:18, itemHeight:3, itemGap:0,
    textStyle:{fontSize:13, color:txtCol, fontFamily:F, width:21, padding:[0,0,0,-1]}
  };
}

function txt(text, x, y, size, opts) {
  return Object.assign({type:'text', x:x, y:y, silent:true,
    style:{text:text, fontSize:size, fontFamily:F, fill:txtCol, align:'center', verticalAlign:'middle', lineHeight:17}}, opts || {});
}

const graphics = [
  txt('UK Biobank', 362, 12, 15.5),
  txt('Younger', 233, 42, 13.5),
  txt('Older', 548, 41, 13.5),
  txt('Lifebrain', 354, 457, 15.5),
  txt('Younger', 230, 488, 13.5),
  txt('Older', 548, 488, 13.5),
  txt('Cortical volume\n(mm³)', 16, 138, 15, {rotation:Math.PI/2}),
  txt('Cortical thickness\n(mm)', 16, 285, 15, {rotation:Math.PI/2}),
  txt('Cortical volume\n(mm³)', 16, 592, 15, {rotation:Math.PI/2}),
  txt('Cortical thickness\n(mm)', 16, 778, 15, {rotation:Math.PI/2}),
  txt('GCA younger (z)', 95, 406, 13),
  txt('GCA older (z)', 434, 406, 13),
  txt('GCA younger (z)', 95, 935, 13),
  txt('GCA older (z)', 431, 935, 13),
  {type:'text', x:182, y:920, silent:true, style:{text:'-', fontSize:9, fill:'#777', align:'center', verticalAlign:'middle', fontFamily:F}},
  {type:'text', x:520, y:920, silent:true, style:{text:'-', fontSize:9, fill:'#777', align:'center', verticalAlign:'middle', fontFamily:F}}
];

const chart = echarts.init(document.getElementById('c'), null, {renderer:'canvas'});
chart.setOption({
  animation:false,
  backgroundColor:'#ffffff',
  textStyle:{fontFamily:F},
  grid:grids, xAxis:xAxes, yAxis:yAxes, series:series,
  legend:[
    legendAt(ukbYoungLevels, 159, 398),
    legendAt(ukbOldLevels, 488, 398),
    legendAt(lbYoungLevels, 159, 927),
    legendAt(lbOldLevels, 483, 927)
  ],
  graphic:graphics
});
</script></body></html>
